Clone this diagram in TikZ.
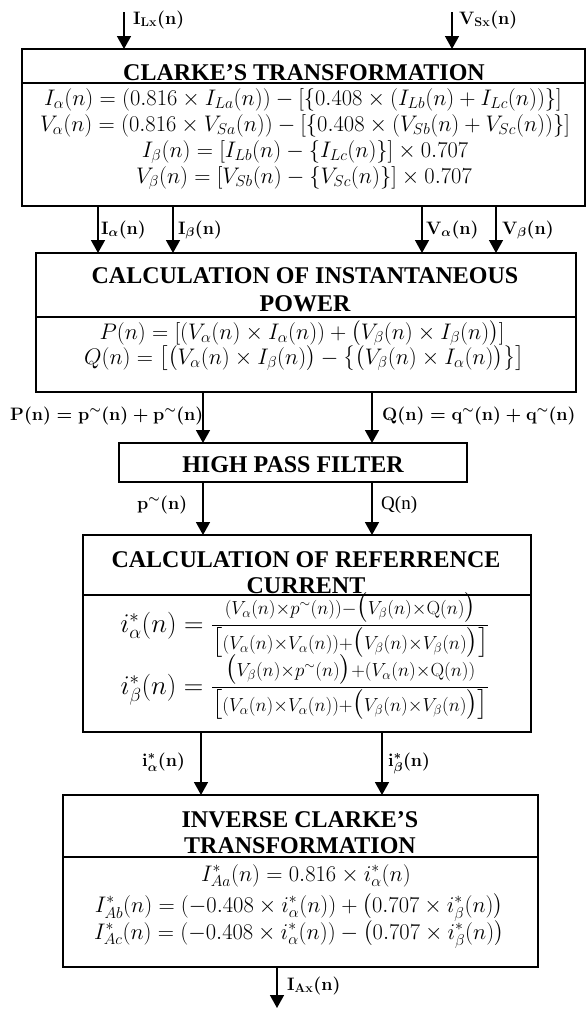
\RequirePackage{fix-cm}
\documentclass[tikz,border=0pt]{standalone}
\usepackage{amsmath}
\usepackage[no-math]{fontspec}
\setmainfont{Liberation Serif}
\usetikzlibrary{arrows.meta}
\begin{document}
\begin{tikzpicture}[x=1pt,y=-1pt,
  box/.style={draw, line width=1.8pt, inner sep=0pt, outer sep=0pt, anchor=north west},
  sep/.style={line width=1.8pt},
  arr/.style={line width=1.5pt, -{Triangle[width=14pt,length=13pt]}},
  ttl/.style={font=\fontsize{24}{28}\selectfont\bfseries, inner sep=0pt, anchor=base},
  eq/.style={font=\fontsize{22.5}{26}\selectfont, inner sep=0pt, anchor=base},
  bigeq/.style={font=\fontsize{27}{30}\selectfont, inner sep=0pt, anchor=base},
  lbl/.style={font=\fontsize{18}{20}\selectfont\boldmath, inner sep=0pt, anchor=base west},
]
\useasboundingbox (0,0) rectangle (588,1009);

% boxes
\node[box, minimum width=563pt, minimum height=157pt] (clarke) at (22,49) {};
\node[box, minimum width=540pt, minimum height=139pt] (power) at (36,253) {};
\node[box, minimum width=348pt, minimum height=39pt] (hpf) at (119,443) {};
\node[box, minimum width=448pt, minimum height=197pt] (ref) at (83,535) {};
\node[box, minimum width=475pt, minimum height=172pt] (inv) at (63,795) {};

% separators
\draw[sep] (22,83) -- (585,83);
\draw[sep] (36,317) -- (576,317);
\draw[sep] (83,595) -- (531,595);
\draw[sep] (63,857) -- (538,857);

% titles
\node[ttl] (tC) at (304,80) {CLARKE’S TRANSFORMATION};
\node[ttl] (tP1) at (305,283) {CALCULATION OF INSTANTANEOUS};
\node[ttl] (tP2) at (305,311) {POWER};
\node[ttl] (tH) at (293,472) {HIGH PASS FILTER};
\node[ttl] (tR1) at (306,567) {CALCULATION OF REFERRENCE};
\node[ttl] (tR2) at (306,593) {CURRENT};
\node[ttl] (tV1) at (300,827) {INVERSE CLARKE’S};
\node[ttl] (tV2) at (300,853) {TRANSFORMATION};

% Clarke equations
\node[eq] (c1) at (303,105) {$I_\alpha(n) = (0.816\times I_{La}(n)) - [\{0.408\times(I_{Lb}(n)+I_{Lc}(n))\}]$};
\node[eq] (c2) at (305,131) {$V_\alpha(n) = (0.816\times V_{Sa}(n)) - [\{0.408\times(V_{Sb}(n)+V_{Sc}(n))\}]$};
\node[eq] (c3) at (305,157) {$I_\beta(n) = [I_{Lb}(n) - \{I_{Lc}(n)\}]\times 0.707$};
\node[eq] (c4) at (304,183) {$V_\beta(n) = [V_{Sb}(n) - \{V_{Sc}(n)\}]\times 0.707$};

% power equations
\node[eq] (p1) at (302,339) {$P(n) = [(V_\alpha(n)\times I_\alpha(n)) + \big(V_\beta(n)\times I_\beta(n)\big)]$};
\node[eq] (p2) at (304,364) {$Q(n) = \big[\big(V_\alpha(n)\times I_\beta(n)\big) - \big\{\big(V_\beta(n)\times I_\alpha(n)\big)\big\}\big]$};

% reference current equations
\node[bigeq] (r1) at (305,632) {$i^{*}_{\alpha}(n) = \frac{(V_\alpha(n)\times p^{\sim}(n)) - \big(V_\beta(n)\times \mathrm{Q}(n)\big)}{\big[(V_\alpha(n)\times V_\alpha(n)) + \big(V_\beta(n)\times V_\beta(n)\big)\big]}$};
\node[bigeq] (r2) at (305,694) {$i^{*}_{\beta}(n) = \frac{\big(V_\beta(n)\times p^{\sim}(n)\big) + (V_\alpha(n)\times \mathrm{Q}(n))}{\big[(V_\alpha(n)\times V_\alpha(n)) + \big(V_\beta(n)\times V_\beta(n)\big)\big]}$};

% inverse equations
\node[eq] (v1) at (306,881) {$I^{*}_{Aa}(n) = 0.816\times i^{*}_{\alpha}(n)$};
\node[eq] (v2) at (299,912) {$I^{*}_{Ab}(n) = (-0.408\times i^{*}_{\alpha}(n)) + \big(0.707\times i^{*}_{\beta}(n)\big)$};
\node[eq] (v3) at (299,939) {$I^{*}_{Ac}(n) = (-0.408\times i^{*}_{\alpha}(n)) - \big(0.707\times i^{*}_{\beta}(n)\big)$};

% x positions
\coordinate (xIL) at (124,12);
\coordinate (xVS) at (452,12);
\coordinate (xIa) at (98,0);
\coordinate (xIb) at (173,0);
\coordinate (xVa) at (422,0);
\coordinate (xVb) at (496,0);
\coordinate (xP) at (203,0);
\coordinate (xQ) at (372,0);
\coordinate (xRa) at (201,0);
\coordinate (xRb) at (382,0);
\coordinate (xOut) at (277,1008);

% arrows
\draw[arr] (xIL) -- (clarke.north -| xIL);
\draw[arr] (xVS) -- (clarke.north -| xVS);
\draw[arr] (clarke.south -| xIa) -- (power.north -| xIa);
\draw[arr] (clarke.south -| xIb) -- (power.north -| xIb);
\draw[arr] (clarke.south -| xVa) -- (power.north -| xVa);
\draw[arr] (clarke.south -| xVb) -- (power.north -| xVb);
\draw[arr] (power.south -| xP) -- (hpf.north -| xP);
\draw[arr] (power.south -| xQ) -- (hpf.north -| xQ);
\draw[arr] (hpf.south -| xP) -- (ref.north -| xP);
\draw[arr] (hpf.south -| xQ) -- (ref.north -| xQ);
\draw[arr] (ref.south -| xRa) -- (inv.north -| xRa);
\draw[arr] (ref.south -| xRb) -- (inv.north -| xRb);
\draw[arr] (inv.south -| xOut) -- (xOut);

% labels
\node[lbl] (lIL) at (133,24) {$\mathbf{I}_{\mathbf{Lx}}\mathbf{(n)}$};
\node[lbl] (lVS) at (459,24) {$\mathbf{V}_{\mathbf{Sx}}\mathbf{(n)}$};
\node[lbl] (lIa) at (101,234) {$\mathbf{I}_{\alpha}\mathbf{(n)}$};
\node[lbl] (lIb) at (178,234) {$\mathbf{I}_{\beta}\mathbf{(n)}$};
\node[lbl] (lVa) at (426,234) {$\mathbf{V}_{\alpha}\mathbf{(n)}$};
\node[lbl] (lVb) at (502,234) {$\mathbf{V}_{\beta}\mathbf{(n)}$};
\node[lbl] (lP) at (10,420) {$\mathbf{P(n)=p^{\sim}(n)+p^{\sim}(n)}$};
\node[lbl] (lQ) at (382,420) {$\mathbf{Q(n)=q^{\sim}(n)+q^{\sim}(n)}$};
\node[lbl] (lp) at (137,509) {$\mathbf{p^{\sim}(n)}$};
\node[lbl, font=\fontsize{19}{21}\selectfont] (lq) at (381,509) {Q(n)};
\node[lbl] (lRa) at (142,766) {$\mathbf{i}^{*}_{\alpha}\mathbf{(n)}$};
\node[lbl] (lRb) at (388,766) {$\mathbf{i}^{*}_{\beta}\mathbf{(n)}$};
\node[lbl] (lOut) at (287,990) {$\mathbf{I}_{\mathbf{Ax}}\mathbf{(n)}$};
\end{tikzpicture}
\end{document}
